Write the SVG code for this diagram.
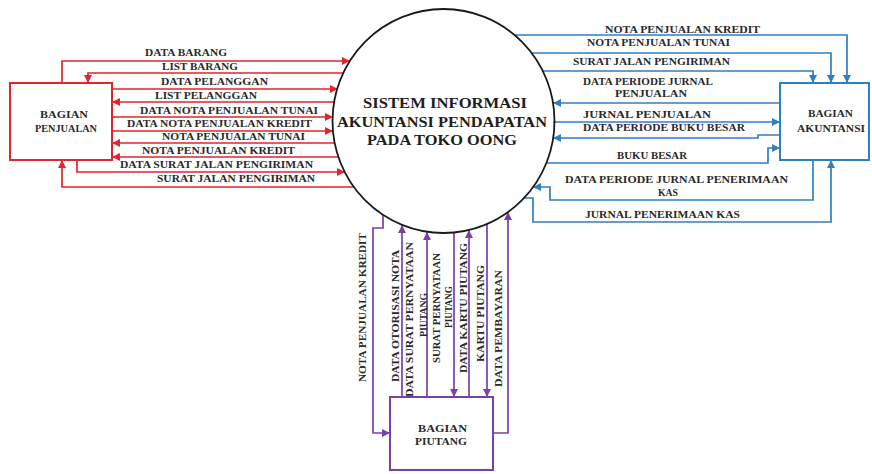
<svg xmlns="http://www.w3.org/2000/svg" width="872" height="474" viewBox="0 0 872 474">
<defs>
<style>
.t{font-family:"Liberation Serif","Times New Roman",serif;font-weight:bold;font-size:10.5px;fill:#2a2a2a}
.bt{font-family:"Liberation Serif","Times New Roman",serif;font-weight:bold;font-size:10.5px;fill:#2a2a2a;text-anchor:middle}
.ct{font-family:"Liberation Serif","Times New Roman",serif;font-weight:bold;font-size:15.5px;fill:#1e1e1e;text-anchor:middle}
.r{fill:none;stroke:#e0252c;stroke-width:1.7}
.b{fill:none;stroke:#2f7fc1;stroke-width:1.7}
.p{fill:none;stroke:#7b3fa6;stroke-width:1.7}
.ra{marker-end:url(#mr)}
.ba{marker-end:url(#mb)}
.pa{marker-end:url(#mp)}
</style>
<marker id="mr" viewBox="0 0 10 10" refX="10" refY="5" markerWidth="9" markerHeight="8" markerUnits="userSpaceOnUse" orient="auto"><path d="M0,0 L10,5 L0,10 z" fill="#e0252c"/></marker>
<marker id="mb" viewBox="0 0 10 10" refX="10" refY="5" markerWidth="9" markerHeight="8" markerUnits="userSpaceOnUse" orient="auto"><path d="M0,0 L10,5 L0,10 z" fill="#2f7fc1"/></marker>
<marker id="mp" viewBox="0 0 10 10" refX="10" refY="5" markerWidth="9" markerHeight="8" markerUnits="userSpaceOnUse" orient="auto"><path d="M0,0 L10,5 L0,10 z" fill="#7b3fa6"/></marker>
</defs>
<rect width="872" height="474" fill="#ffffff"/>

<g id="connectors">
<!-- Red: Bagian Penjualan -->
<path class="r ra" d="M62,83 V61 H350"/>
<path class="r ra" d="M344,73 H88 V83"/>
<path class="r ra" d="M112,89 H338"/>
<path class="r ra" d="M335,102 H112"/>
<path class="r ra" d="M112,117 H333"/>
<path class="r ra" d="M112,131 H333"/>
<path class="r ra" d="M335,143 H112"/>
<path class="r ra" d="M339,157 H112"/>
<path class="r ra" d="M77,160 V172 H345"/>
<path class="r ra" d="M354,187 H62 V160"/>
<!-- Blue: Bagian Akuntansi -->
<path class="b ba" d="M514,35 H847 V83"/>
<path class="b ba" d="M531,53 H831 V83"/>
<path class="b ba" d="M542,71 H813 V83"/>
<path class="b ba" d="M780,103 H553"/>
<path class="b ba" d="M553,122 H780"/>
<path class="b ba" d="M780,135 H758 V138 H553"/>
<path class="b ba" d="M546,163 H768 V148 H780"/>
<path class="b ba" d="M813,160 V200 H550 V187 H533"/>
<path class="b ba" d="M524,198 H533 V222 H831 V160"/>
<!-- Purple: Bagian Piutang -->
<path class="p pa" d="M383,215 V228 H373 V433 H390"/>
<path class="p pa" d="M402,397 V225"/>
<path class="p pa" d="M427,397 V232"/>
<path class="p pa" d="M454,232 V397"/>
<path class="p pa" d="M469,397 V230"/>
<path class="p pa" d="M487,224 V397"/>
<path class="p pa" d="M493,433 H508 V212"/>
</g>

<g id="labels">
<text class="t" x="145" y="56" textLength="82" lengthAdjust="spacingAndGlyphs">DATA BARANG</text>
<text class="t" x="162" y="69.5" textLength="76" lengthAdjust="spacingAndGlyphs">LIST BARANG</text>
<text class="t" x="161" y="85" textLength="107" lengthAdjust="spacingAndGlyphs">DATA PELANGGAN</text>
<text class="t" x="155" y="99" textLength="102" lengthAdjust="spacingAndGlyphs">LIST PELANGGAN</text>
<text class="t" x="140" y="114" textLength="178" lengthAdjust="spacingAndGlyphs">DATA NOTA PENJUALAN TUNAI</text>
<text class="t" x="127" y="127" textLength="185" lengthAdjust="spacingAndGlyphs">DATA NOTA PENJUALAN KREDIT</text>
<text class="t" x="162" y="140" textLength="143" lengthAdjust="spacingAndGlyphs">NOTA PENJUALAN TUNAI</text>
<text class="t" x="142" y="154" textLength="153" lengthAdjust="spacingAndGlyphs">NOTA PENJUALAN KREDIT</text>
<text class="t" x="120" y="168" textLength="193" lengthAdjust="spacingAndGlyphs">DATA SURAT JALAN PENGIRIMAN</text>
<text class="t" x="157" y="182" textLength="158" lengthAdjust="spacingAndGlyphs">SURAT JALAN PENGIRIMAN</text>

<text class="t" x="605" y="32.5" textLength="155" lengthAdjust="spacingAndGlyphs">NOTA PENJUALAN KREDIT</text>
<text class="t" x="587" y="46" textLength="143" lengthAdjust="spacingAndGlyphs">NOTA PENJUALAN TUNAI</text>
<text class="t" x="573" y="65" textLength="157" lengthAdjust="spacingAndGlyphs">SURAT JALAN PENGIRIMAN</text>
<text class="t" x="583" y="84.5" textLength="130" lengthAdjust="spacingAndGlyphs">DATA PERIODE JURNAL</text>
<text class="t" x="615" y="97" textLength="72" lengthAdjust="spacingAndGlyphs">PENJUALAN</text>
<text class="t" x="583" y="117.5" textLength="128" lengthAdjust="spacingAndGlyphs">JURNAL PENJUALAN</text>
<text class="t" x="583" y="131" textLength="162" lengthAdjust="spacingAndGlyphs">DATA PERIODE BUKU BESAR</text>
<text class="t" x="617" y="158.5" textLength="70" lengthAdjust="spacingAndGlyphs">BUKU BESAR</text>
<text class="t" x="565" y="182.5" textLength="223" lengthAdjust="spacingAndGlyphs">DATA PERIODE JURNAL PENERIMAAN</text>
<text class="t" x="658" y="195.5" textLength="20" lengthAdjust="spacingAndGlyphs">KAS</text>
<text class="t" x="585" y="218" textLength="155" lengthAdjust="spacingAndGlyphs">JURNAL PENERIMAAN KAS</text>

<text class="bt" transform="translate(365.5,307.5) rotate(-90)" textLength="149" lengthAdjust="spacingAndGlyphs">NOTA PENJUALAN KREDIT</text>
<text class="bt" transform="translate(398.5,316) rotate(-90)" textLength="132" lengthAdjust="spacingAndGlyphs">DATA OTORISASI NOTA</text>
<text class="bt" transform="translate(412.5,319.5) rotate(-90)" textLength="155" lengthAdjust="spacingAndGlyphs">DATA SURAT PERNYATAAN</text>
<text class="bt" transform="translate(426.5,315) rotate(-90)" textLength="44" lengthAdjust="spacingAndGlyphs">PIUTANG</text>
<text class="bt" transform="translate(439.5,308) rotate(-90)" textLength="110" lengthAdjust="spacingAndGlyphs">SURAT PERNYATAAN</text>
<text class="bt" transform="translate(451.5,307) rotate(-90)" textLength="42" lengthAdjust="spacingAndGlyphs">PIUTANG</text>
<text class="bt" transform="translate(466.5,308) rotate(-90)" textLength="130" lengthAdjust="spacingAndGlyphs">DATA KARTU PIUTANG</text>
<text class="bt" transform="translate(483.5,313.5) rotate(-90)" textLength="97" lengthAdjust="spacingAndGlyphs">KARTU PIUTANG</text>
<text class="bt" transform="translate(501.5,328.5) rotate(-90)" textLength="117" lengthAdjust="spacingAndGlyphs">DATA PEMBAYARAN</text>
</g>

<g id="n-sistem">
<ellipse cx="443.5" cy="121" rx="111" ry="112" fill="#ffffff" fill-opacity="0" stroke="#1a1a1a" stroke-width="1.8"/>
<text class="ct" x="445" y="108" textLength="164" lengthAdjust="spacingAndGlyphs">SISTEM INFORMASI</text>
<text class="ct" x="442" y="127" textLength="210" lengthAdjust="spacingAndGlyphs">AKUNTANSI PENDAPATAN</text>
<text class="ct" x="442" y="145" textLength="150" lengthAdjust="spacingAndGlyphs">PADA TOKO OONG</text>
</g>

<g id="n-penjualan">
<rect x="10" y="83" width="102" height="77" fill="#ffffff" stroke="#e0252c" stroke-width="2"/>
<text class="bt" x="64" y="117.5" textLength="48" lengthAdjust="spacingAndGlyphs">BAGIAN</text>
<text class="bt" x="66" y="131.5" textLength="62" lengthAdjust="spacingAndGlyphs">PENJUALAN</text>
</g>

<g id="n-akuntansi">
<rect x="780" y="83" width="89" height="77" fill="#ffffff" stroke="#2f7fc1" stroke-width="2"/>
<text class="bt" x="830.5" y="116.5" textLength="45" lengthAdjust="spacingAndGlyphs">BAGIAN</text>
<text class="bt" x="831" y="131.5" textLength="68" lengthAdjust="spacingAndGlyphs">AKUNTANSI</text>
</g>

<g id="n-piutang">
<rect x="390" y="397" width="103" height="73" fill="#ffffff" stroke="#7b3fa6" stroke-width="2"/>
<text class="bt" x="442.5" y="431.5" textLength="49" lengthAdjust="spacingAndGlyphs">BAGIAN</text>
<text class="bt" x="441" y="444.5" textLength="52" lengthAdjust="spacingAndGlyphs">PIUTANG</text>
</g>
</svg>
